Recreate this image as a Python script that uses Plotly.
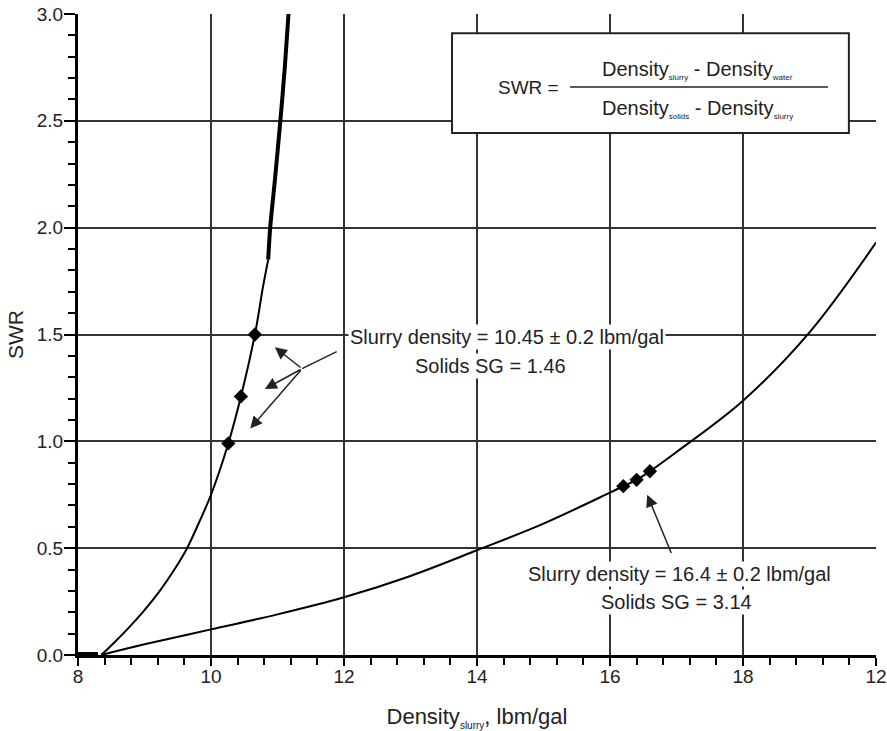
import plotly.graph_objects as go

# ---- data ----
# Curve for Solids SG = 1.46 (thin part, then thick upper part)
c1_x = [8.35, 8.55, 8.74, 9.0, 9.23, 9.45, 9.64, 9.82, 10.0, 10.26, 10.45, 10.66, 10.78, 10.86]
c1_y = [0.0, 0.06, 0.12, 0.21, 0.30, 0.40, 0.50, 0.62, 0.75, 0.99, 1.21, 1.50, 1.72, 1.85]
c1t_x = [10.86, 10.89, 10.96, 11.04, 11.11, 11.17]
c1t_y = [1.85, 2.00, 2.22, 2.49, 2.75, 3.02]
m1_x = [10.26, 10.45, 10.66]
m1_y = [0.99, 1.21, 1.50]

# Curve for Solids SG = 3.14
c2_x = [8.35, 9.0, 10.0, 11.0, 12.0, 13.0, 14.0, 15.0, 16.0, 16.2, 16.4, 16.6, 17.0, 18.0, 19.0, 20.0]
c2_y = [0.0, 0.05, 0.12, 0.19, 0.27, 0.37, 0.49, 0.615, 0.76, 0.79, 0.82, 0.86, 0.95, 1.19, 1.51, 1.93]
m2_x = [16.2, 16.4, 16.6]
m2_y = [0.79, 0.82, 0.86]

# blob along the axis near the origin
b_x = [8.0, 8.3]
b_y = [0.0, 0.0]

x_ticks = [8, 10, 12, 14, 16, 18, 20]
x_labels = ["8", "10", "12", "14", "16", "18", "12"]
y_ticks = [0.0, 0.5, 1.0, 1.5, 2.0, 2.5, 3.0]

FONT = "Liberation Sans, Arial, sans-serif"
TXT = "#222222"

fig = go.Figure()
fig.add_trace(go.Scatter(x=c1_x, y=c1_y, mode="lines",
                         line=dict(color="black", width=2, shape="spline", smoothing=1.0),
                         cliponaxis=False, showlegend=False, hoverinfo="skip"))
fig.add_trace(go.Scatter(x=c1t_x, y=c1t_y, mode="lines",
                         line=dict(color="black", width=4, shape="spline", smoothing=0.8),
                         cliponaxis=False, showlegend=False, hoverinfo="skip"))
fig.add_trace(go.Scatter(x=c2_x, y=c2_y, mode="lines",
                         line=dict(color="black", width=2, shape="spline", smoothing=1.0),
                         cliponaxis=False, showlegend=False, hoverinfo="skip"))
fig.add_trace(go.Scatter(x=b_x, y=b_y, mode="lines",
                         line=dict(color="black", width=6),
                         cliponaxis=False, showlegend=False, hoverinfo="skip"))
fig.add_trace(go.Scatter(x=m1_x, y=m1_y, mode="markers",
                         marker=dict(symbol="diamond", size=11, color="black"),
                         cliponaxis=False, showlegend=False))
fig.add_trace(go.Scatter(x=m2_x, y=m2_y, mode="markers",
                         marker=dict(symbol="diamond", size=11, color="black"),
                         cliponaxis=False, showlegend=False))

# formula box (paper coords)
fig.add_shape(type="rect", xref="paper", yref="paper", x0=0.4687, x1=0.966, y0=0.8143, y1=0.970,
              line=dict(color="#222222", width=2), fillcolor="white", layer="above")
fig.add_shape(type="line", xref="paper", yref="paper", x0=0.6165, x1=0.9398, y0=0.886, y1=0.886,
              line=dict(color="#222222", width=1.5), layer="above")

sub = lambda s, n=8: '<sub><span style="font-size:%dpx">%s</span></sub>' % (n, s)
ffont = dict(size=20, color=TXT, family=FONT)
fig.add_annotation(xref="paper", yref="paper", x=0.565, y=0.8846, text="SWR =",
                   xanchor="center", yanchor="middle", showarrow=False,
                   font=dict(size=19, color=TXT, family=FONT))
fig.add_annotation(xref="paper", yref="paper", x=0.7757, y=0.9126,
                   text="Density" + sub("slurry") + " - Density" + sub("water"),
                   xanchor="center", yanchor="middle", showarrow=False, font=ffont)
fig.add_annotation(xref="paper", yref="paper", x=0.7757, y=0.852,
                   text="Density" + sub("solids") + " - Density" + sub("slurry"),
                   xanchor="center", yanchor="middle", showarrow=False, font=ffont)

# labels for the curves
lab_font = dict(size=20, color=TXT, family=FONT)
fig.add_annotation(x=14.45, y=1.488, text="Slurry density = 10.45 ± 0.2 lbm/gal",
                   xanchor="center", yanchor="middle",
                   showarrow=False, bgcolor="white", font=lab_font)
fig.add_annotation(x=14.21, y=1.352, text="Solids SG = 1.46",
                   xanchor="center", yanchor="middle",
                   showarrow=False, bgcolor="white", font=lab_font)
fig.add_annotation(x=17.05, y=0.379, text="Slurry density = 16.4 ± 0.2 lbm/gal",
                   xanchor="center", yanchor="middle",
                   showarrow=False, bgcolor="white", font=lab_font)
fig.add_annotation(x=17.0, y=0.25, text="Solids SG = 3.14",
                   xanchor="center", yanchor="middle",
                   showarrow=False, bgcolor="white", font=lab_font)

# leader line and arrows
fig.add_shape(type="line", x0=11.89, y0=1.42, x1=11.37, y1=1.34,
              line=dict(color="#222222", width=1.5))
for hx, hy in [(10.96, 1.44), (10.81, 1.245), (10.59, 1.06)]:
    fig.add_annotation(x=hx, y=hy, ax=11.37, ay=1.34, axref="x", ayref="y", text="",
                       showarrow=True, arrowhead=2, arrowsize=1.6, arrowwidth=1.5,
                       arrowcolor="#222222")
fig.add_annotation(x=16.56, y=0.75, ax=16.93, ay=0.47, axref="x", ayref="y", text="",
                   showarrow=True, arrowhead=2, arrowsize=1.6, arrowwidth=1.5,
                   arrowcolor="#222222")

fig.update_layout(
    width=887, height=731,
    margin=dict(l=78, r=11, t=14, b=76, autoexpand=False),
    paper_bgcolor="white", plot_bgcolor="white",
    font=dict(family=FONT, color=TXT, size=19),
    xaxis=dict(range=[8, 20], tickvals=x_ticks, ticktext=x_labels, automargin=False,
               showgrid=True, gridcolor="#333333", gridwidth=2,
               showline=True, linecolor="black", linewidth=3,
               ticks="outside", ticklen=8, tickwidth=2, tickcolor="black",
               ticklabelstandoff=-6,
               minor=dict(dtick=0.4, tick0=8, ticks="outside", ticklen=7, tickwidth=2,
                          tickcolor="black", showgrid=False),
               zeroline=False, tickfont=dict(size=19, color=TXT),
               title=dict(text="Density" + sub("slurry", 10) + ", lbm/gal",
                          font=dict(size=22, color=TXT), standoff=28)),
    yaxis=dict(range=[0, 3.0], tickvals=y_ticks, tickformat=".1f", automargin=False,
               showgrid=True, gridcolor="#333333", gridwidth=2,
               showline=True, linecolor="black", linewidth=3,
               ticks="outside", ticklen=11, tickwidth=2, tickcolor="black",
               ticklabelstandoff=-3,
               minor=dict(dtick=0.1, ticks="outside", ticklen=7, tickwidth=2,
                          tickcolor="black", showgrid=False),
               zeroline=False, tickfont=dict(size=19, color=TXT),
               title=dict(text="SWR", font=dict(size=21, color=TXT), standoff=8)),
)

fig.write_html("out.html")
